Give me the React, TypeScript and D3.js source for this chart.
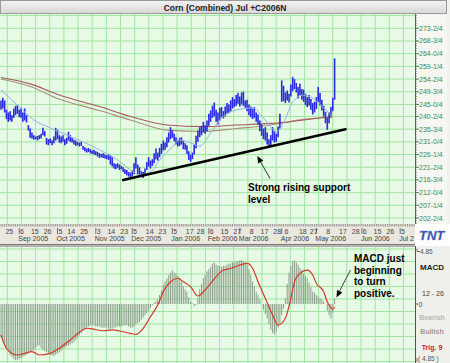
import React from "react";
import * as d3 from "d3";

// ---------- DATA ----------
// daily bars (trading-day index 0..183), prices in cents
const highs = [
  246.5, 247.5, 246.5, 243.0, 242.0, 242.5, 241.0, 243.5, 244.5, 244.75,
  243.0, 243.75, 242.0, 243.5, 241.0, 237.25, 236.0, 234.5, 233.5, 233.0,
  233.25, 233.5, 234.0, 236.25, 235.0, 232.5, 232.0, 232.25, 231.5, 233.0,
  236.25, 235.5, 233.5, 233.0, 233.5, 232.0, 232.5, 234.75, 233.5, 232.5,
  231.75, 231.5, 231.0, 230.75, 231.0, 229.5, 229.0, 228.5, 228.75, 228.25,
  227.75, 228.0, 227.5, 227.25, 226.75, 226.5, 226.75, 226.25, 226.0, 226.5,
  226.0, 225.25, 223.0, 222.75, 223.0, 222.5, 222.0, 221.5, 220.75, 220.5,
  219.75, 219.5, 220.25, 223.0, 225.25, 222.5, 221.5, 220.0, 219.75, 221.0,
  223.5, 225.25, 224.0, 224.5, 226.75, 228.5, 227.0, 228.75, 230.25, 231.5,
  230.75, 232.75, 234.5, 236.5, 235.25, 234.0, 232.75, 231.5, 232.5, 232.75,
  231.25, 230.5, 229.75, 227.5, 226.25, 227.0, 230.0, 233.25, 235.25, 236.5,
  237.0, 238.5, 237.25, 239.0, 241.5, 242.75, 244.5, 245.75, 243.0, 242.0,
  243.75, 244.0, 242.5, 244.25, 245.5, 245.0, 246.5, 247.75, 247.0, 248.5,
  249.25, 248.0, 249.5, 249.75, 246.5, 246.75, 245.0, 244.25, 243.5, 244.0,
  242.0, 241.25, 239.0, 237.5, 236.0, 236.5, 234.5, 232.0, 233.5, 236.5,
  235.0, 234.0, 236.75, 241.5, 254.0, 252.0, 249.5, 250.25, 249.0, 252.5,
  255.25, 254.5, 253.0, 251.5, 252.75, 250.75, 250.5, 249.0, 247.75, 248.5,
  247.0, 245.5, 246.0, 247.75, 251.5, 249.25, 246.75, 244.5, 242.25, 240.0,
  242.0, 244.0, 247.5, 262.25,
];
const lows = [
  243.0, 243.5, 242.0, 239.5, 238.5, 239.0, 238.5, 240.0, 241.0, 241.5,
  240.25, 240.0, 238.5, 239.0, 238.25, 235.25, 232.5, 232.25, 231.75, 232.0,
  231.5, 232.0, 232.25, 233.5, 233.0, 230.0, 229.75, 230.5, 229.75, 230.5,
  231.5, 232.0, 230.75, 230.5, 231.0, 229.75, 230.25, 231.5, 231.0, 230.75,
  230.0, 229.5, 229.75, 229.25, 229.5, 228.0, 227.5, 227.0, 227.25, 226.75,
  226.5, 226.25, 226.0, 225.5, 225.0, 225.25, 225.0, 224.75, 224.5, 224.25,
  222.5, 221.75, 221.0, 220.75, 221.25, 220.5, 220.75, 219.75, 219.0, 218.5,
  218.0, 217.5, 218.0, 219.0, 221.0, 219.0, 218.25, 217.75, 217.5, 218.25,
  220.5, 221.75, 221.0, 222.0, 223.0, 224.5, 224.0, 225.25, 226.5, 227.75,
  228.0, 229.0, 230.75, 232.0, 232.5, 231.25, 230.0, 229.25, 229.5, 230.0,
  228.25, 228.0, 226.5, 224.25, 223.5, 224.5, 226.25, 228.5, 231.0, 232.75,
  233.5, 234.5, 234.0, 235.0, 237.0, 238.5, 240.0, 240.5, 238.5, 237.5,
  239.0, 240.25, 239.75, 240.5, 241.5, 241.75, 242.5, 243.5, 244.0, 244.5,
  245.25, 244.25, 245.0, 244.5, 243.75, 242.5, 241.0, 240.25, 239.5, 240.0,
  238.5, 237.5, 235.0, 233.25, 232.0, 231.5, 230.0, 228.75, 229.5, 231.5,
  230.75, 231.0, 232.75, 236.0, 246.0, 246.25, 245.5, 246.5, 245.75, 248.0,
  250.0, 250.75, 249.5, 247.25, 248.5, 246.75, 246.0, 244.75, 244.0, 244.5,
  243.0, 241.25, 242.0, 243.25, 246.0, 244.5, 242.75, 240.5, 238.0, 235.5,
  238.0, 240.5, 242.5, 246.75,
];

// short moving average (light blue), read points
const smaIdx = [0, 10, 18, 27, 36, 45, 54, 64, 71, 76, 82, 87, 94, 98, 104, 109, 115, 120, 129, 138, 144, 148, 151, 155, 160, 166, 171, 177, 182];
const smaVal = [250.4, 244.1, 239.2, 236.2, 233.6, 231.0, 228.0, 224.2, 220.5, 218.6, 219.7, 224.2, 229.1, 231.7, 230.6, 229.4, 234.3, 239.2, 242.9, 243.7, 240.0, 236.6, 234.7, 238.1, 245.9, 248.5, 247.4, 243.7, 240.3];

// long moving averages (two brownish lines)
const lmaIdx = [0, 16, 32, 54, 72, 91, 111, 129, 148, 153, 166, 182];
const lmaA = [255.1, 252.7, 248.5, 244.2, 240.3, 237.3, 236.7, 237.3, 237.9, 238.1, 239.2, 240.5];
const lmaB = [254.5, 251.7, 247.0, 242.7, 239.0, 235.4, 234.9, 236.0, 237.3, 237.9, 239.4, 240.3];

// support trend line endpoints (index, price)
const trendIdx = [67, 189];
const trendVal = [216.7, 235.7];

// MACD histogram per bar
const macd = [
  -2.9, -3.2, -3.5, -3.8, -4.2, -4.5, -4.7, -4.9, -5.0, -5.0,
  -4.9, -4.8, -4.7, -4.6, -4.5, -4.4, -4.3, -4.2, -4.1, -3.9,
  -3.7, -3.7, -3.9, -4.1, -4.2, -4.3, -4.4, -4.5, -4.6, -4.6,
  -4.5, -4.4, -4.3, -4.2, -4.0, -3.9, -3.8, -3.7, -3.6, -3.5,
  -3.4, -3.2, -3.0, -2.8, -2.6, -2.4, -2.2, -2.1, -2.0, -1.9,
  -1.9, -1.9, -2.0, -2.0, -2.0, -2.1, -2.1, -2.1, -2.1, -2.2,
  -2.2, -2.2, -2.1, -2.1, -2.0, -2.0, -2.0, -1.9, -1.9, -1.9,
  -2.0, -2.1, -2.1, -2.0, -1.8, -1.7, -1.6, -1.4, -1.2, -1.0,
  -0.8, -0.6, -0.35, -0.1, 0.1, 0.25, 0.4, 0.8, 1.2, 1.7,
  2.0, 2.3, 2.6, 2.8, 3.0, 2.8, 2.7, 2.5, 2.3, 2.0,
  1.6, 1.3, 1.1, 0.6, 0.2, 0.05, -0.2, -0.1, 0.5, 1.3,
  1.8, 2.3, 2.6, 2.9, 3.1, 3.3, 3.6, 3.7, 3.5, 3.4,
  3.4, 3.3, 3.4, 3.4, 3.5, 3.6, 3.6, 3.7, 3.7, 3.8,
  3.8, 3.9, 3.9, 3.8, 3.7, 3.5, 3.1, 2.6, 2.0, 1.6,
  1.1, 0.8, 0.4, 0.0, -0.5, -0.9, -1.3, -1.8, -2.3, -2.6,
  -2.7, -2.5, -2.1, -1.7, -1.0, -0.4, 0.5, 1.8, 2.8, 3.4,
  3.8, 3.9, 3.7, 3.5, 3.2, 3.0, 2.7, 2.5, 2.3, 1.9,
  1.5, 1.1, 1.0, 0.8, 0.7, 0.5, 0.4, 0.2, 0.0, -0.6,
  -1.0, -1.3, -0.8, 0.5,
];

// MACD trigger line (red), read points
const sigIdx = [0, 3, 9, 13, 17, 21, 27, 32, 38, 43, 47, 50, 56, 61, 65, 71, 74, 78, 82, 86, 89, 93, 97, 100, 104, 108, 112, 115, 118, 122, 126, 131, 135, 138, 141, 145, 149, 152, 156, 159, 161, 164, 168, 171, 173, 177, 179, 182, 183];
const sigVal = [-2.76, -3.94, -4.54, -4.39, -4.24, -4.54, -4.39, -3.94, -3.2, -2.52, -2.16, -2.22, -2.38, -2.31, -2.4, -2.61, -2.7, -2.16, -1.13, -0.09, 1.09, 1.98, 2.29, 1.98, 1.54, 0.71, 1.25, 1.84, 2.43, 3.02, 3.16, 3.47, 3.62, 3.18, 1.98, 0.51, -0.98, -1.87, -1.27, 0.51, 1.98, 2.73, 3.02, 2.58, 1.84, 1.09, 0.2, -0.44, -0.27];

// price axis ticks
const priceTicks = [273.5, 268.75, 264.0, 259.25, 254.5, 249.75, 245.0, 240.5, 235.75, 231.0, 226.25, 221.5, 216.75, 212.0, 207.25, 202.5];
const priceLabels = ["273-2/4", "268-3/4", "264-0/4", "259-1/4", "254-2/4", "249-3/4", "245-0/4", "240-2/4", "235-3/4", "231-0/4", "226-1/4", "221-2/4", "216-3/4", "212-0/4", "207-1/4", "202-2/4"];

// date axis
const dayIdx = [4, 11, 18, 25, 32, 38, 45, 53, 60, 67, 73, 81, 88, 95, 103, 109, 115, 122, 129, 137, 144, 151, 156, 165, 171, 179, 187, 194, 199, 206, 213, 220];
const dayText = ["25", "6", "15", "26", "5", "14", "25", "3", "14", "23", "5", "14", "23", "5", "17", "28", "6", "15", "27", "8", "17", "28", "6", "18", "27", "8", "17", "28", "6", "15", "26", "5"];
const monthIdx = [10, 31, 52, 72, 94, 114, 131, 154, 173, 198, 219];
const monthText = ["Sep 2005", "Oct 2005", "Nov 2005", "Dec 2005", "Jan 2006", "Feb 2006", "Mar 2006", "Apr 2006", "May 2006", "Jun 2006", "Jul 2"];

const FONT = "'Liberation Sans', Arial, Helvetica, sans-serif";

function arrowHead(tx: number, ty: number, fx: number, fy: number, len: number, hw: number) {
  const dx = tx - fx, dy = ty - fy;
  const L = Math.hypot(dx, dy);
  const ux = dx / L, uy = dy / L;
  const bx = tx - ux * len, by = ty - uy * len;
  const px = -uy * hw, py = ux * hw;
  return `${tx},${ty} ${bx + px},${by + py} ${bx - px},${by - py}`;
}

export default function App() {
  const PR = 415; // plot right
  const MT = 14, MB = 224; // main plot top/bottom
  const BT = 224, BB = 244; // date band
  const KT = 246, KB = 363; // macd panel

  const x = d3.scaleLinear().domain([0, 227]).range([1, 414.8]);
  const y = d3.scaleLinear().domain([202.5, 273.5]).range([218, 28.3]);
  const ym = d3.scaleLinear().domain([-4.85, 4.85]).range([358.5, 249.5]);

  const vGrid = d3.range(7.3, PR, 14.15);
  const hGridMain = [...priceTicks, 278.25].map((p) => y(p));
  const hGridMacd = d3.range(249, KB, 12.5);
  const minorPrice = d3.range(197.75, 279, 0.9475);
  const days = d3.range(0, 228);

  const lineIdx = d3.line<number>().curve(d3.curveMonotoneX);
  const smaPath = lineIdx(smaIdx.map((d, k) => [x(d), y(smaVal[k])]) as any);
  const lmaAPath = lineIdx(lmaIdx.map((d, k) => [x(d), y(lmaA[k])]) as any);
  const lmaBPath = lineIdx(lmaIdx.map((d, k) => [x(d), y(lmaB[k])]) as any);
  const sigPath = lineIdx(sigIdx.map((d, k) => [x(d), ym(sigVal[k])]) as any);

  const t0x = x(trendIdx[0]), t0y = y(trendVal[0]);
  const t1x = x(trendIdx[1]), t1y = y(trendVal[1]);

  return (
    <div style={{ width: 450, height: 363, overflow: "hidden" }}>
      <style>{"body{margin:0;padding:0;background:#fff}"}</style>
      <svg width={450} height={363} style={{ display: "block" }} fontFamily={FONT}>
        <defs>
          <clipPath id="mainClip"><rect x={0} y={MT} width={PR} height={MB - MT} /></clipPath>
          <clipPath id="macdClip"><rect x={0} y={KT} width={PR} height={KB - KT} /></clipPath>
          <clipPath id="bandClip"><rect x={0} y={BT} width={PR} height={BB - BT} /></clipPath>
          <linearGradient id="titleGrad" x1="0" y1="0" x2="0" y2="1">
            <stop offset="0" stopColor="#f2f2f2" />
            <stop offset="1" stopColor="#d8d8d8" />
          </linearGradient>
        </defs>
        <rect x={0} y={0} width={450} height={363} fill="#f0f0ec" />

        {/* title bar */}
        <rect x={0.5} y={0.5} width={446} height={13} fill="url(#titleGrad)" stroke="#9a9a9a" />
        <text x={225} y={10.5} textAnchor="middle" fontSize={8.5} fontWeight="bold" fill="#222">
          Corn (Combined) Jul +C2006N
        </text>

        {/* main plot */}
        <g clipPath="url(#mainClip)">
          <rect x={0} y={MT} width={PR} height={MB - MT} fill="#e6fae6" />
          {vGrid.map((gx, k) => (
            <line key={"v" + k} x1={gx} x2={gx} y1={MT} y2={MB} stroke="#9fe59f" strokeWidth={1} />
          ))}
          {hGridMain.map((gy, k) => (
            <line key={"h" + k} x1={0} x2={PR} y1={gy} y2={gy} stroke="#9fe59f" strokeWidth={1} />
          ))}
          <path d={lmaBPath || ""} fill="none" stroke="#a8907c" strokeWidth={1.1} />
          <path d={lmaAPath || ""} fill="none" stroke="#a45a5a" strokeWidth={1.1} />
          {highs.map((h, i) => (
            <line key={"b" + i} x1={x(i)} x2={x(i)} y1={y(h)} y2={y(lows[i])} stroke="#2a2ae0" strokeWidth={1.6} />
          ))}
          <path d={smaPath || ""} fill="none" stroke="#8fb6ea" strokeWidth={1} />
          <line x1={t0x} y1={t0y} x2={t1x} y2={t1y} stroke="#000" strokeWidth={2.6} strokeLinecap="round" />
        </g>

        {/* annotation 1 */}
        <line x1={270} y1={178.5} x2={259.5} y2={160} stroke="#333" strokeWidth={1} />
        <polygon points={arrowHead(257.3, 156, 270, 178.5, 7, 3)} fill="#000" />
        <text x={248} y={191} fontSize={10} fontWeight="bold" fill="#000">Strong rising support</text>
        <text x={248} y={202.5} fontSize={10} fontWeight="bold" fill="#000">level</text>

        {/* right price axis */}
        <rect x={PR} y={MT} width={32} height={MB - MT} fill="#f6f6f2" />
        <line x1={PR + 0.5} x2={PR + 0.5} y1={MT} y2={MB} stroke="#555" />
        {minorPrice.map((p, k) => (
          <line key={"m" + k} x1={PR} x2={PR + 2} y1={y(p)} y2={y(p)} stroke="#777" strokeWidth={0.7} />
        ))}
        {priceTicks.map((p, k) => (
          <g key={"pt" + k}>
            <line x1={PR} x2={PR + 4} y1={y(p)} y2={y(p)} stroke="#4a7a4a" />
            <text x={PR + 4} y={y(p) + 2.5} fontSize={7} fill="#3f8a3f">{priceLabels[k]}</text>
          </g>
        ))}

        {/* date band */}
        <rect x={0} y={BT} width={PR} height={BB - BT} fill="#e9e7de" />
        <g clipPath="url(#bandClip)">
          {days.map((d) => (
            <line key={"d" + d} x1={x(d)} x2={x(d)} y1={BT} y2={BT + 2.5} stroke="#777" strokeWidth={0.7} />
          ))}
          {monthIdx.map((m, k) => (
            <line key={"ms" + k} x1={x(m)} x2={x(m)} y1={BT + 4} y2={BT + 10} stroke="#555" strokeWidth={0.8} />
          ))}
          {dayIdx.map((d, k) => (
            <text key={"dt" + k} x={x(d) + 1} y={BT + 9.5} fontSize={7} fill="#444" textAnchor="middle">{dayText[k]}</text>
          ))}
          {monthIdx.map((m, k) => (
            <text key={"mt" + k} x={x(m) - 1} y={BT + 16.5} fontSize={7} fill="#444">{monthText[k]}</text>
          ))}
        </g>
        <line x1={0} x2={PR} y1={BB + 0.5} y2={BB + 0.5} stroke="#777" />
        <line x1={0} x2={PR} y1={BB + 1.5} y2={BB + 1.5} stroke="#bbb" />

        {/* TNT logo box */}
        <rect x={PR} y={BT} width={35} height={KT - BT} fill="#ffffff" />
        <text x={PR + 4} y={BT + 16} fontSize={13} fontWeight="bold" fontStyle="italic" fill="#2444a8" stroke="#8aa0d8" strokeWidth={0.4}>TNT</text>

        {/* MACD panel */}
        <g clipPath="url(#macdClip)">
          <rect x={0} y={KT} width={PR} height={KB - KT} fill="#e6fae6" />
          {vGrid.map((gx, k) => (
            <line key={"kv" + k} x1={gx} x2={gx} y1={KT} y2={KB} stroke="#9fe59f" strokeWidth={1} />
          ))}
          {hGridMacd.map((gy, k) => (
            <line key={"kh" + k} x1={0} x2={PR} y1={gy} y2={gy} stroke="#9fe59f" strokeWidth={1} />
          ))}
          {macd.map((v, i) => (
            <line key={"k" + i} x1={x(i)} x2={x(i)} y1={ym(0)} y2={ym(v)} stroke="#8c9c8c" strokeWidth={1} />
          ))}
          <path d={sigPath || ""} fill="none" stroke="#d23a2a" strokeWidth={1.2} />
        </g>
        <line x1={0} x2={PR} y1={KT + 0.5} y2={KT + 0.5} stroke="#aaa" />

        {/* annotation 2 */}
        <line x1={350.5} y1={270} x2={338.5} y2={293} stroke="#444" strokeWidth={1} />
        <polygon points={arrowHead(336.5, 297.5, 350.5, 270, 7, 3)} fill="#000" />
        <text x={354} y={262} fontSize={10} fontWeight="bold" fill="#000">MACD just</text>
        <text x={354} y={273.5} fontSize={10} fontWeight="bold" fill="#000">beginning</text>
        <text x={354} y={285} fontSize={10} fontWeight="bold" fill="#000">to turn</text>
        <text x={354} y={296.5} fontSize={10} fontWeight="bold" fill="#000">positive.</text>

        {/* MACD right axis */}
        <rect x={PR} y={KT} width={35} height={KB - KT} fill="#efefeb" />
        <line x1={PR + 0.5} x2={PR + 0.5} y1={KT} y2={KB} stroke="#555" />
        <path d={`M${PR + 2},${ym(4.85) - 1} V${ym(4.85) + 2} H${PR + 5}`} fill="none" stroke="#555" strokeWidth={0.8} />
        <text x={PR + 5} y={ym(4.85) + 4} fontSize={6.5} fill="#555">4.85</text>
        <text x={PR + 17} y={270} fontSize={8} fontWeight="bold" fill="#222" textAnchor="middle">MACD</text>
        <text x={PR + 18} y={295.5} fontSize={7} fill="#444" textAnchor="middle">12 - 26</text>
        <line x1={PR} x2={PR + 3} y1={ym(0)} y2={ym(0)} stroke="#555" />
        <text x={PR + 3.5} y={ym(0) + 2.5} fontSize={7} fill="#444">0</text>
        <text x={PR + 17} y={319.5} fontSize={7} fontWeight="bold" fill="#b8b8b8" textAnchor="middle">Bearish</text>
        <text x={PR + 17} y={334} fontSize={7} fontWeight="bold" fill="#9a9a9a" textAnchor="middle">Bullish</text>
        <text x={PR + 17} y={350} fontSize={7} fontWeight="bold" fill="#d02020" textAnchor="middle">Trig. 9</text>
        <path d={`M${PR + 2},${KB - 5} V${KB - 1}`} fill="none" stroke="#555" strokeWidth={0.8} />
        <text x={PR + 3} y={360.5} fontSize={6.5} fill="#555">( 4.85 )</text>
      </svg>
    </div>
  );
}
